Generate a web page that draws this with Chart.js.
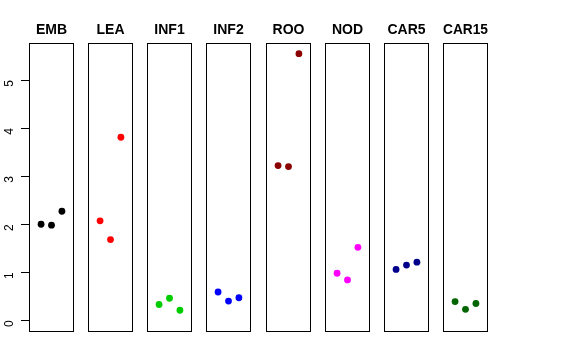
<!DOCTYPE html>
<html>
<head>
<meta charset="utf-8">
<script src="https://cdn.jsdelivr.net/npm/chart.js@4/dist/chart.umd.min.js"></script>
<style>
  html, body { margin: 0; padding: 0; background: #ffffff; }
  #wrap { position: relative; width: 576px; height: 360px; overflow: hidden; background: #fff; }
  #wrap canvas { position: absolute; top: 0; }
</style>
</head>
<body>
<div id="wrap"></div>
<script>
// ---- data ----
const categories = ['EMB', 'LEA', 'INF1', 'INF2', 'ROO', 'NOD', 'CAR5', 'CAR15'];
const replicates = [1, 2, 3];
const embValues   = [2.00, 1.98, 2.27];
const leaValues   = [2.07, 1.68, 3.81];
const inf1Values  = [0.33, 0.46, 0.21];
const inf2Values  = [0.59, 0.40, 0.47];
const rooValues   = [3.22, 3.20, 5.55];
const nodValues   = [0.98, 0.84, 1.52];
const car5Values  = [1.06, 1.15, 1.21];
const car15Values = [0.39, 0.23, 0.35];
const seriesValues = [embValues, leaValues, inf1Values, inf2Values, rooValues, nodValues, car5Values, car15Values];
const seriesColors = ['#000000', '#FF0000', '#00CD00', '#0000FF', '#8B0000', '#FF00FF', '#00008B', '#006400'];
const yTickValues = [0, 1, 2, 3, 4, 5];

// ---- layout ----
const panelLeft0 = 29, panelStep = 59.15, panelWidth = 45;
const areaTop = 43, areaBottom = 331, H = 360;
const axisWidth = 29;
const FONT = 'Liberation Sans, Arial, Helvetica, sans-serif';

const framePlugin = {
  id: 'frame',
  afterDatasetsDraw(chart) {
    const a = chart.chartArea, ctx = chart.ctx;
    ctx.save();
    ctx.strokeStyle = '#000';
    ctx.lineWidth = 1;
    ctx.strokeRect(Math.round(a.left) + 0.5, Math.round(a.top) + 0.5,
                   Math.round(a.right - a.left) - 1, Math.round(a.bottom - a.top));
    ctx.restore();
  }
};

const wrap = document.getElementById('wrap');
categories.forEach((cat, i) => {
  const first = i === 0;
  const left = Math.round(panelLeft0 + i * panelStep);
  const cLeft = first ? 0 : left;
  const cWidth = first ? left + panelWidth : panelWidth;
  const canvas = document.createElement('canvas');
  canvas.width = cWidth; canvas.height = H;
  canvas.style.left = cLeft + 'px';
  canvas.style.width = cWidth + 'px';
  canvas.style.height = H + 'px';
  wrap.appendChild(canvas);

  const points = replicates.map((r, k) => ({ x: r, y: seriesValues[i][k] }));
  const titleLine = 14 * 1.2;
  const titleTop = 22;
  const yScale = {
    type: 'linear', min: -0.222, max: 5.772,
    display: first,
    afterBuildTicks(scale) { scale.ticks = yTickValues.map(v => ({ value: v })); },
    border: { display: false },
    grid: { drawOnChartArea: false, drawTicks: true, tickLength: 8, color: '#000', lineWidth: 1 },
    ticks: {
      color: '#000', font: { family: FONT, size: 12 },
      minRotation: 90, maxRotation: 90, padding: 11,
      callback: v => String(v)
    }
  };
  if (first) yScale.afterFit = (scale) => { scale.width = axisWidth; };
  new Chart(canvas, {
    type: 'scatter',
    data: {
      datasets: [{
        label: cat,
        data: points,
        backgroundColor: seriesColors[i],
        borderColor: seriesColors[i],
        borderWidth: 0,
        pointRadius: 3.4,
        pointHoverRadius: 3.4
      }]
    },
    options: {
      responsive: false,
      animation: false,
      events: [],
      layout: { autoPadding: false, padding: { top: titleTop, bottom: H - areaBottom, left: 0, right: 0 } },
      plugins: {
        legend: { display: false },
        tooltip: { enabled: false },
        title: {
          display: true,
          fullSize: false,
          text: cat,
          color: '#000',
          font: { family: FONT, size: 14, weight: 'bold', lineHeight: 1.2 },
          padding: { top: 0, bottom: areaTop - titleTop - titleLine }
        }
      },
      scales: {
        x: { type: 'linear', min: -0.16, max: 4.16, display: false },
        y: yScale
      }
    },
    plugins: [framePlugin]
  });
});
</script>
</body>
</html>
